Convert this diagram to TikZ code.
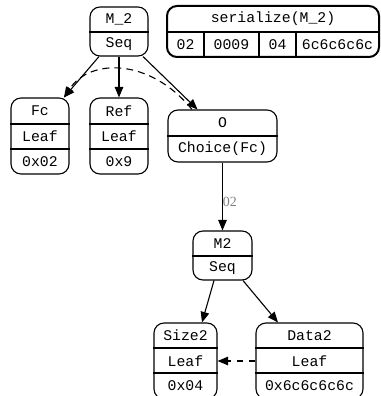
\documentclass[tikz,border=0pt]{standalone}
\usepackage{fontspec}
\setmonofont{Liberation Mono}
\newfontfamily\lblfont{Liberation Serif}
\usetikzlibrary{arrows.meta}
\begin{document}
\begin{tikzpicture}[x=1pt,y=-1pt,
  rec/.style={draw, line width=1.1pt, rounded corners=10pt, inner sep=0pt},
  tbl/.style={draw, line width=2pt, rounded corners=10pt, inner sep=0pt},
  txt/.style={font=\ttfamily\fontsize{14.8pt}{16pt}\selectfont, inner sep=0pt},
  div/.style={line width=1.1pt},
  edge/.style={line width=1.1pt, -{Triangle[length=10.5pt,width=8.5pt]}},
  dedge/.style={line width=1.1pt, dash pattern=on 7pt off 5pt, -{Triangle[length=10.5pt,width=8.5pt]}},
  lbl/.style={font=\lblfont\fontsize{14pt}{16pt}\selectfont, text=black!50, inner sep=0pt, anchor=west}
]
\useasboundingbox (0,0) rectangle (380,396);

% M_2
\node[rec, minimum width=58pt, minimum height=49pt] (mtwo) at (119,31.5) {};
\draw[div] (mtwo.west |- 0,32) -- (mtwo.east |- 0,32);
\node[txt] (mtwoa) at (119,19.5) {M\_2};
\node[txt] (mtwob) at (119,44) {Seq};

% serialize table
\node[tbl, minimum width=212pt, minimum height=51pt] (ser) at (273,31.5) {};
\draw[div] (ser.west |- 0,32) -- (ser.east |- 0,32);
\draw[div] (204,32) -- (204,57);
\draw[div] (259,32) -- (259,57);
\draw[div] (296,32) -- (296,57);
\node[txt] (sera) at (273,19) {serialize(M\_2)};
\node[txt] (serb) at (185.5,44.5) {02};
\node[txt] (serc) at (231.5,44.5) {0009};
\node[txt] (serd) at (277.5,44.5) {04};
\node[txt] (sere) at (337.5,44.5) {6c6c6c6c};

% Fc
\node[rec, minimum width=58pt, minimum height=76pt] (fc) at (40,136) {};
\draw[div] (fc.west |- 0,124) -- (fc.east |- 0,124);
\draw[div] (fc.west |- 0,149) -- (fc.east |- 0,149);
\node[txt] (fca) at (40,111) {Fc};
\node[txt] (fcb) at (40,136.5) {Leaf};
\node[txt] (fcc) at (40,161.5) {0x02};

% Ref
\node[rec, minimum width=58pt, minimum height=76pt] (ref) at (119,136) {};
\draw[div] (ref.west |- 0,124) -- (ref.east |- 0,124);
\draw[div] (ref.west |- 0,149) -- (ref.east |- 0,149);
\node[txt] (refa) at (119,111) {Ref};
\node[txt] (refb) at (119,136.5) {Leaf};
\node[txt] (refc) at (119,161.5) {0x9};

% O
\node[rec, minimum width=109pt, minimum height=52pt] (o) at (222.5,136) {};
\draw[div] (o.west |- 0,136) -- (o.east |- 0,136);
\node[txt] (oa) at (222.5,123) {O};
\node[txt] (ob) at (222.5,149) {Choice(Fc)};

% M2
\node[rec, minimum width=59pt, minimum height=49pt] (mm) at (222.5,255.5) {};
\draw[div] (mm.west |- 0,256) -- (mm.east |- 0,256);
\node[txt] (mma) at (222.5,243.5) {M2};
\node[txt] (mmb) at (222.5,268) {Seq};

% Size2
\node[rec, minimum width=63pt, minimum height=76pt] (size) at (185.5,361) {};
\draw[div] (size.west |- 0,348) -- (size.east |- 0,348);
\draw[div] (size.west |- 0,373) -- (size.east |- 0,373);
\node[txt] (sizea) at (185.5,335.5) {Size2};
\node[txt] (sizeb) at (185.5,361) {Leaf};
\node[txt] (sizec) at (185.5,386) {0x04};

% Data2
\node[rec, minimum width=107pt, minimum height=76pt] (data) at (309.5,361) {};
\draw[div] (data.west |- 0,348) -- (data.east |- 0,348);
\draw[div] (data.west |- 0,373) -- (data.east |- 0,373);
\node[txt] (dataa) at (309.5,335.5) {Data2};
\node[txt] (datab) at (309.5,361) {Leaf};
\node[txt] (datac) at (309.5,386) {0x6c6c6c6c};

% edges
\draw[edge] ([xshift=-20pt]mtwo.south) -- ([xshift=24pt]fc.north);
\draw[edge] (mtwo.south) -- (ref.north);
\draw[edge] ([xshift=24pt]mtwo.south) -- ([xshift=-25pt]o.north);
\draw[dedge] ([xshift=-30.5pt]o.north) .. controls (150,58) and (90,58) .. ([xshift=24pt]fc.north);
\draw[edge] (o.south) -- node[lbl, pos=0.58, xshift=-0.3pt] (lab) {02} (mm.north);
\draw[edge] ([xshift=-8.5pt]mm.south) -- ([xshift=16.5pt]size.north);
\draw[edge] ([xshift=20.5pt]mm.south) -- ([xshift=-31.5pt]data.north);
\draw[dedge, dash pattern=on 6pt off 6pt] (data.west) -- (size.east);
\end{tikzpicture}
\end{document}
